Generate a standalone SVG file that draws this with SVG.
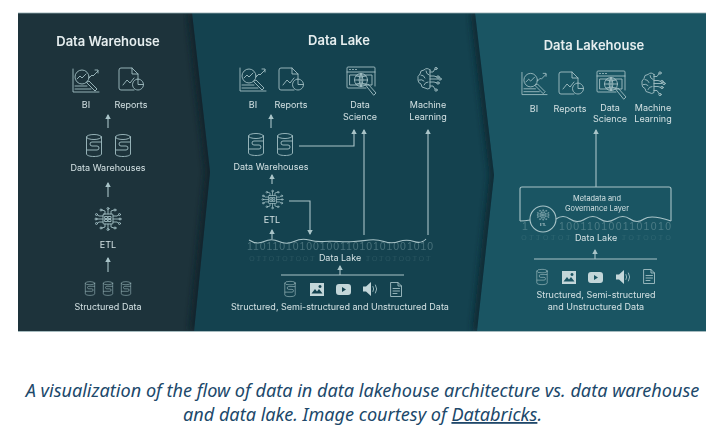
<svg xmlns="http://www.w3.org/2000/svg" width="725" height="437" viewBox="0 0 725 437">
<style>
.t{font-family:"Inter","Liberation Sans",sans-serif;fill:#d3e1e3;font-size:9px;text-anchor:middle}
.h{font-size:13px;font-weight:600;fill:#e6eeef}
.m{font-size:7.400px}
.s{fill:none;stroke:#a3c0c4;stroke-width:.9;stroke-linecap:round;stroke-linejoin:round}
.c{fill:none;stroke:#a9c4c8;stroke-width:1.100}
.f{fill:#c3d6d9;stroke:none}
.b{font-family:"Liberation Sans",sans-serif;font-size:10.500px;fill:#8fb0b5;opacity:.42;text-anchor:middle}
.r{font-family:"Liberation Sans",sans-serif;font-size:10.500px;fill:#8fb0b5;opacity:.14;text-anchor:middle}
.cap{font-family:"Noto Sans","Liberation Sans",sans-serif;font-style:italic;font-size:18.100px;fill:#20486a;text-anchor:middle}
</style>
<defs>
<marker id="a" markerWidth="6" markerHeight="6" refX="3.600" refY="2.500" orient="auto"><path d="M0 0L4.500 2.500L0 5Z" fill="#a9c4c8"/></marker>
<clipPath id="cl1"><path d="M18 13H192L210 172 194 331H18Z"/></clipPath>
<clipPath id="cl2"><path d="M18 13H475L494 175 477 331H18Z"/></clipPath>
<filter id="sb" x="-50%" y="-5%" width="200%" height="110%"><feGaussianBlur stdDeviation="3"/></filter>
<filter id="soft" x="-5%" y="-5%" width="110%" height="110%"><feGaussianBlur stdDeviation=".4"/></filter>
<symbol id="bi" viewBox="0 0 28 25" overflow="visible"><g class="s"><path d="M1 1V24H27M3 21H19M3 18H15"/><circle cx="10" cy="9" r="7"/><path d="M5 11l3-3 2 2 4-4"/><path d="M15 14l2-1 8 8-2 2-8-8zM17 10l3-3 1 1 5-5M23 2h3v3"/></g></symbol>
<symbol id="rp" viewBox="0 0 26 25" overflow="visible"><g class="s"><path d="M16 23H3a2 2 0 0 1-2-2V3a2 2 0 0 1 2-2H14l6 6v4M14 1v6h6"/><path d="M5 18l4-5 3 3 4-5"/><path d="M20 12a5.500 5.500 0 1 1-.01 0M20 12v5.500h5.500"/></g></symbol>
<symbol id="db" viewBox="0 0 16 23" overflow="visible"><g class="s"><ellipse cx="8" cy="3" rx="7.500" ry="2.500"/><path d="M.5 3V20c0 1.400 3.400 2.500 7.500 2.500s7.500-1.100 7.500-2.500V3"/><path d="M15 8H6q-2 0-2 2t2 2h5q2 0 2 2t-2 2H1"/></g></symbol>
<symbol id="etl" viewBox="0 0 26 24" overflow="visible"><g class="s"><rect x="8" y="7" width="10" height="10" rx="1"/><path d="M10 9.500h2.500v2H10zM13.500 9.500H16v2h-2.500zM10 12.500h2.500v2H10zM13.500 12.500H16v2h-2.500z"/><path d="M10 7V4l-3-1M13 7V2.500M16 7V4l3-1M8 9H4L2.500 8M8 12H1.500M8 15H4l-1.500 1M18 9h4l1.500-1M18 12h6.500M18 15h4l1.500 1M10 17v3l-3 1M13 17v4.500M16 17v3l3 1"/><circle cx="6" cy="3" r="1"/><circle cx="13" cy="1.500" r="1"/><circle cx="20" cy="3" r="1"/><circle cx="1.500" cy="7.500" r="1"/><circle cx="1" cy="12" r="1"/><circle cx="1.500" cy="16.500" r="1"/><circle cx="24.500" cy="7.500" r="1"/><circle cx="25" cy="12" r="1"/><circle cx="24.500" cy="16.500" r="1"/><circle cx="6" cy="21" r="1"/><circle cx="13" cy="22.500" r="1"/><circle cx="20" cy="21" r="1"/></g></symbol>
<symbol id="sci" viewBox="0 0 31 30" overflow="visible"><g class="s"><path d="M20 22H2a1 1 0 0 1-1-1V2a1 1 0 0 1 1-1H28a1 1 0 0 1 1 1V20M1 6H29M3.500 3.500h1M6.500 3.500h1M9.500 3.500h1"/><rect x="4" y="9" width="22" height="10"/><circle cx="15" cy="14" r="6.500"/><path d="M8.500 14H21.500M15 7.500V20.500M10 10q5 2 10 0M10 18q5-2 10 0M15 7.500q-4 6.500 0 13M15 7.500q4 6.500 0 13"/><path d="M20 19l2-1 8 9-2 2z"/></g></symbol>
<symbol id="br" viewBox="0 0 25 25" overflow="visible"><g class="s"><path d="M13 3q-3-3-6 0-4 0-4 4-3 2-2 6 0 3 3 4 0 4 4 4 3 2 5 0V3z"/><path d="M4 8q3 0 4 3M2 13q3-1 5 1M7 18q1-3 4-3M9 4q0 3 3 4"/><path d="M13 5h3l2-3M13 9h4l3 1M13 12h8M13 15h4l3 1M13 19h3l2 3"/><circle cx="19" cy="1.500" r="1.200"/><circle cx="21" cy="10" r="1.200"/><circle cx="23" cy="12" r="1.200"/><circle cx="21" cy="16" r="1.200"/><circle cx="19" cy="23" r="1.200"/></g></symbol>
<symbol id="img" viewBox="0 0 14 13" overflow="visible"><path class="f" d="M0 0H14V13H0ZM1.500 10.500H12.500L9 6 7 8.500 5 6ZM10 2a1.500 1.500 0 1 0 .01 0Z" fill-rule="evenodd"/></symbol>
<symbol id="vid" viewBox="0 0 15 11" overflow="visible"><path class="f" d="M3 0H12a3 3 0 0 1 3 3V8a3 3 0 0 1-3 3H3a3 3 0 0 1-3-3V3a3 3 0 0 1 3-3ZM6 3V8L10 5.500Z" fill-rule="evenodd"/></symbol>
<symbol id="aud" viewBox="0 0 15 14" overflow="visible"><path class="f" d="M0 4.500H3L8 0V14L3 9.500H0Z"/><path class="s" d="M10 4.500q1.500 2.500 0 5M12.500 3q2.500 4 0 8"/></symbol>
<symbol id="doc" viewBox="0 0 12 15" overflow="visible"><g class="s"><path d="M1 .5H8L11.500 4V14.500H1Z"/><path d="M8 .5V4H11.500M3 6.500H9.500M3 9H9.500M3 11.500H7"/></g></symbol>
</defs>

<g id="panels">
<rect x="18" y="13" width="688" height="318" fill="#1a5563"/>
<path d="M18 13H475L494 175 477 331H18Z" fill="#14424f"/>
<g clip-path="url(#cl2)"><path d="M475 13L494 175 477 331" fill="none" stroke="#0d262e" stroke-width="9" opacity=".85" filter="url(#sb)"/></g>
<path d="M18 13H192L210 172 194 331H18Z" fill="#1d333b"/>
<g clip-path="url(#cl1)"><path d="M192 13L210 172 194 331" fill="none" stroke="#11222a" stroke-width="9" opacity=".85" filter="url(#sb)"/></g>
<path d="M18 13H706M18 331.500H706" stroke="#8fa9ae" stroke-width=".8" fill="none"/>
</g>

<g filter="url(#soft)">
<g id="connectors">
<g class="c">
<path d="M108 128V115" marker-end="url(#a)"/><path d="M108 197V183" marker-end="url(#a)"/><path d="M108 272V258" marker-end="url(#a)"/>
<path d="M271 128V115" marker-end="url(#a)"/><path d="M299 146H354V130" marker-end="url(#a)"/><path d="M364 235V130" marker-end="url(#a)"/><path d="M428 235V130" marker-end="url(#a)"/><path d="M272 184V175" marker-end="url(#a)"/><path d="M272 239V230" marker-end="url(#a)"/><path d="M289 201H310V234" marker-end="url(#a)"/><path d="M340 275V266" marker-end="url(#a)"/>
<path d="M596 187V130" marker-end="url(#a)"/><path d="M595 259V250" marker-end="url(#a)"/>
</g>
<path class="c" d="M281 275H404M534 259H657"/>
</g>

<g id="wh">
<text class="t h" x="108" y="46">Data Warehouse</text>
<g id="wh-bi"><use href="#bi" x="72" y="68" width="28" height="25"/><text class="t" x="86" y="108">BI</text></g>
<g id="wh-reports"><use href="#rp" x="118" y="67" width="26" height="25"/><text class="t" x="131" y="108">Reports</text></g>
<g id="wh-dw"><use href="#db" x="86" y="134" width="16" height="23"/><use href="#db" x="115" y="134" width="16" height="23"/><text class="t" x="108" y="171">Data Warehouses</text></g>
<g id="wh-etl"><use href="#etl" x="95" y="207" width="26" height="24"/><text class="t" x="108" y="248">ETL</text></g>
<g id="wh-src"><use href="#db" x="85" y="281" width="10" height="15"/><use href="#db" x="103" y="281" width="10" height="15"/><use href="#db" x="121" y="281" width="10" height="15"/><text class="t" x="108" y="310">Structured Data</text></g>
</g>

<g id="lake">
<text class="t h" x="339" y="45">Data Lake</text>
<g id="lk-bi"><use href="#bi" x="239" y="67" width="28" height="25"/><text class="t" x="253" y="108">BI</text></g>
<g id="lk-reports"><use href="#rp" x="278" y="67" width="26" height="25"/><text class="t" x="291" y="108">Reports</text></g>
<g id="lk-ds"><use href="#sci" x="346" y="66" width="31" height="30"/><text class="t" x="360" y="108">Data</text><text class="t" x="360" y="120">Science</text></g>
<g id="lk-ml"><use href="#br" x="417" y="67" width="25" height="25"/><text class="t" x="428" y="108">Machine</text><text class="t" x="428" y="120">Learning</text></g>
<g id="lk-dw"><use href="#db" x="248" y="133" width="16" height="23"/><use href="#db" x="277" y="133" width="16" height="23"/><text class="t" x="271" y="170">Data Warehouses</text></g>
<g id="lk-etl"><use href="#etl" x="262" y="189" width="21" height="21"/><text class="t" x="272" y="223">ETL</text></g>
<g id="lk-lake">
<text class="b" x="340" y="250" textLength="186" lengthAdjust="spacing">1101101010010011010101001010</text>
<text class="r" transform="matrix(1 0 0 -.6 0 255.500)" x="282" y="0" textLength="66" lengthAdjust="spacing">0110101001</text>
<text class="r" transform="matrix(1 0 0 -.6 0 255.500)" x="398" y="0" textLength="66" lengthAdjust="spacing">1010100101</text>
<path class="c" d="M249 240q7.500 5 15 1.500t15 0 15 0 15-1.500 15 1.500 15 0 15 0 15-1.500 15 1.500 15 0 15 0 12-2.500"/>
<text class="t" x="340" y="260.500">Data Lake</text>
</g>
<g id="lk-src">
<use href="#db" x="284" y="281" width="12" height="16"/><use href="#img" x="310" y="283" width="14" height="13"/><use href="#vid" x="336" y="284" width="15" height="11"/><use href="#aud" x="363" y="282" width="15" height="14"/><use href="#doc" x="390" y="282" width="12" height="15"/>
<text class="t" x="340" y="310">Structured, Semi-structured and Unstructured Data</text>
</g>
</g>

<g id="house">
<text class="t h" x="594" y="50">Data Lakehouse</text>
<g id="lh-bi"><use href="#bi" x="521" y="71" width="27" height="25"/><text class="t" x="534" y="112">BI</text></g>
<g id="lh-reports"><use href="#rp" x="558" y="71" width="26" height="25"/><text class="t" x="570" y="112">Reports</text></g>
<g id="lh-ds"><use href="#sci" x="596" y="70" width="31" height="30"/><text class="t" x="610" y="111">Data</text><text class="t" x="610" y="121.500">Science</text></g>
<g id="lh-ml"><use href="#br" x="641" y="71" width="25" height="26"/><text class="t" x="653" y="111">Machine</text><text class="t" x="653" y="121.500">Learning</text></g>
<g id="lh-meta">
<path class="c" d="M520 221V189q0-2 2-2H669q2 0 2 2V221"/>
<path class="c" d="M520 221q5 0 10-1M556 219q7-5 14 0t15 0 15 0 15 0 15 0 14 0 27 2"/>
<text class="t m" x="597" y="200.500">Metadata and</text><text class="t m" x="597" y="210.500">Governance Layer</text>
</g>
<g id="lh-lake">
<text class="b" x="525" y="229.500">1</text>
<text class="b" x="615" y="229.500" textLength="112" lengthAdjust="spacing">1001101001101010</text>
<text class="r" transform="matrix(1 0 0 -.6 0 234.500)" x="546" y="0" textLength="50" lengthAdjust="spacing">0110101</text>
<text class="r" transform="matrix(1 0 0 -.6 0 234.500)" x="646" y="0" textLength="50" lengthAdjust="spacing">1010010</text>
<text class="t" x="596" y="241">Data Lake</text>
</g>
<g id="lh-etl">
<circle cx="543" cy="219" r="13" fill="none" stroke="#a9c4c8" stroke-width="1.100"/>
<use href="#etl" x="537" y="209" width="12" height="12"/>
<text class="t" x="543" y="226" style="font-size:3.500px">ETL</text>
</g>
<g id="lh-src">
<use href="#db" x="536" y="269" width="12" height="16"/><use href="#img" x="562" y="271" width="14" height="13"/><use href="#vid" x="588" y="272" width="15" height="11"/><use href="#aud" x="616" y="270" width="15" height="14"/><use href="#doc" x="643" y="269" width="12" height="15"/>
<text class="t" x="596" y="298">Structured, Semi-structured</text><text class="t" x="596" y="310">and Unstructured Data</text>
</g>
</g>
</g>

<g id="caption">
<text class="cap" x="362.500" y="397">A visualization of the flow of data in data lakehouse architecture vs. data warehouse</text>
<text class="cap" x="362.500" y="421">and data lake. Image courtesy of <tspan text-decoration="underline">Databricks</tspan>.</text>
</g>
</svg>
